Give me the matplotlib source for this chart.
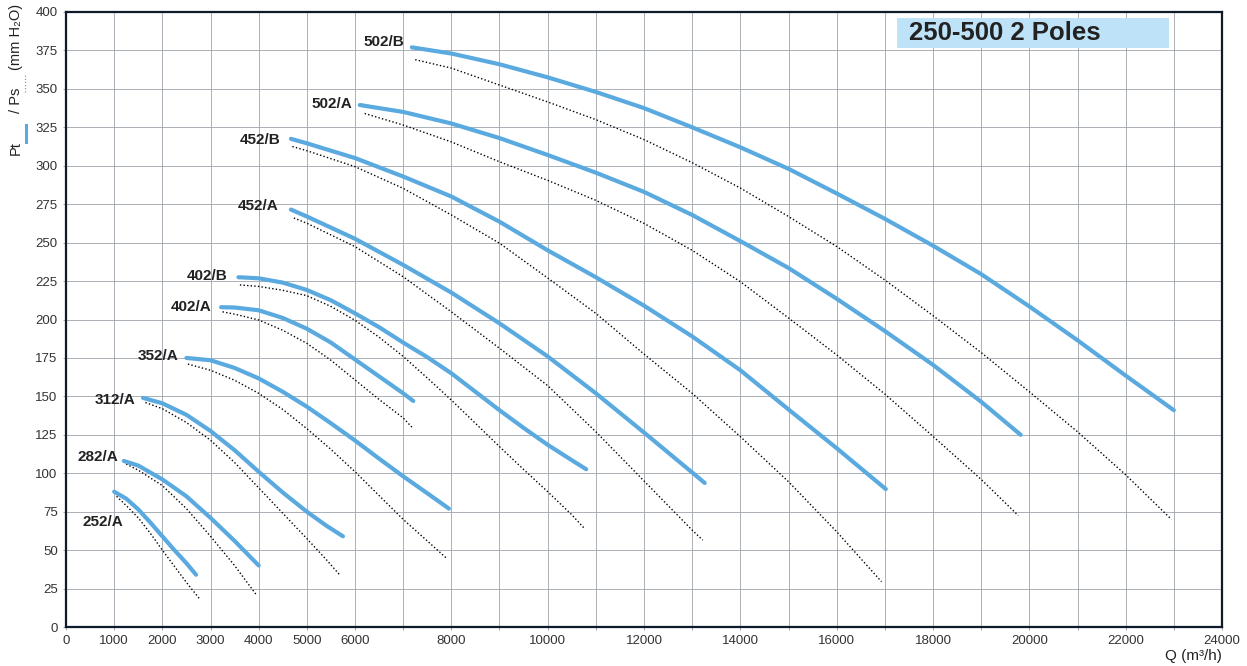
import matplotlib
matplotlib.use('Agg')
import matplotlib.pyplot as plt
from matplotlib.lines import Line2D
from matplotlib.patches import Rectangle

plt.rcParams['font.family'] = ['Liberation Sans', 'DejaVu Sans']

# fan curves: Q (m3/h) and pressure (mm H2O)
# solid = total pressure Pt, dotted = static pressure Ps
q_252_t = [1000, 1250, 1500, 1750, 2000, 2250, 2500, 2700]
p_252_t = [88, 83.5, 76.5, 68, 59, 50, 41.5, 34]
q_252_s = [1050, 1250, 1500, 1750, 2000, 2250, 2500, 2780]
p_252_s = [85, 79, 71, 61, 50, 39.5, 29, 18]

q_282_t = [1200, 1500, 2000, 2500, 3000, 3500, 4000]
p_282_t = [108, 105, 96, 85, 71, 56, 40]
q_282_s = [1250, 1500, 2000, 2500, 3000, 3500, 3950]
p_282_s = [106, 102, 92, 77, 59, 40, 21]

q_312_t = [1600, 2000, 2500, 3000, 3500, 4000, 4500, 5000, 5400, 5750]
p_312_t = [149, 145.5, 138, 127.5, 115, 101, 87.5, 75, 66, 59]
q_312_s = [1650, 2000, 2500, 3000, 3500, 4000, 4500, 5000, 5400, 5680]
p_312_s = [146, 142, 133, 121.5, 107, 90.5, 74, 57.5, 44, 34]

q_352_t = [2500, 3000, 3500, 4000, 4500, 5000, 5500, 6000, 6500, 7000, 7500, 7950]
p_352_t = [175, 173.5, 168.5, 161.7, 153, 143.3, 132.5, 121.3, 109.5, 98, 87, 77]
q_352_s = [2530, 3000, 3500, 4000, 4500, 5000, 5500, 6000, 6500, 7000, 7500, 7890]
p_352_s = [171, 167, 160.5, 152, 141.5, 129, 115.5, 101, 85.5, 70, 56, 45]

q_402a_t = [3220, 3500, 4000, 4500, 5000, 5500, 6000, 6500, 7000, 7210]
p_402a_t = [208, 207.8, 206, 201, 194, 185, 174, 163, 152, 147]
q_402a_s = [3250, 3500, 4000, 4500, 5000, 5500, 6000, 6500, 7000, 7180]
p_402a_s = [205, 203.5, 199.7, 193, 184.5, 173.5, 160.7, 148, 136, 130]

q_402b_t = [3580, 4000, 4500, 5000, 5500, 6000, 6500, 7000, 7500, 8000, 8500, 9000, 9500, 10000, 10500, 10800]
p_402b_t = [227.5, 226.8, 224, 219.2, 212.5, 204, 195, 185, 175.5, 165, 153, 141, 129.5, 118.5, 108.5, 102.6]
q_402b_s = [3610, 4000, 4500, 5000, 5500, 6000, 6500, 7000, 7500, 8000, 8500, 9000, 9500, 10000, 10500, 10760]
p_402b_s = [222.5, 221.5, 219, 215.5, 208.5, 199.5, 188.5, 176, 162, 147.6, 132.5, 117.3, 102.5, 88, 73, 64.2]

q_452a_t = [4670, 5000, 6000, 7000, 8000, 9000, 10000, 11000, 12000, 13000, 13260]
p_452a_t = [271.5, 267, 252.5, 235.5, 217.5, 197.5, 176, 152, 126.5, 100.5, 93.7]
q_452a_s = [4730, 5000, 6000, 7000, 8000, 9000, 10000, 11000, 12000, 13000, 13220]
p_452a_s = [266, 262.6, 247.4, 227.8, 205, 181.3, 157, 127, 95, 63, 56.5]

q_452b_t = [4670, 5000, 6000, 7000, 8000, 9000, 10000, 11000, 12000, 13000, 14000, 15000, 16000, 17020]
p_452b_t = [317.5, 314.6, 305, 293, 280, 263.6, 245, 227.5, 209, 189, 167, 141.5, 116.3, 89.7]
q_452b_s = [4700, 5000, 6000, 7000, 8000, 9000, 10000, 11000, 12000, 13000, 14000, 15000, 16000, 16930]
p_452b_s = [312.5, 309.8, 299.4, 285.3, 268, 249.6, 227, 204, 177.5, 152, 123.8, 94.5, 62, 29.5]

q_502a_t = [6100, 7000, 8000, 9000, 10000, 11000, 12000, 13000, 14000, 15000, 16000, 17000, 18000, 19000, 19820]
p_502a_t = [339.5, 335, 327.5, 318, 307, 295.5, 283, 268, 251, 233.5, 213.5, 192.5, 170.5, 146.5, 125]
q_502a_s = [6200, 7000, 8000, 9000, 10000, 11000, 12000, 13000, 14000, 15000, 16000, 17000, 18000, 19000, 19770]
p_502a_s = [334, 326.5, 315.5, 302.6, 290.5, 277.5, 262.5, 245, 224.6, 201, 177, 151.5, 124, 96, 72.5]

q_502b_t = [7180, 8000, 9000, 10000, 11000, 12000, 13000, 14000, 15000, 16000, 17000, 18000, 19000, 20000, 21000, 22000, 23000]
p_502b_t = [377, 373, 366, 357.5, 348, 337.5, 325, 312, 298, 282, 265.5, 248, 229.5, 208.5, 186.5, 163.5, 141]
q_502b_s = [7250, 8000, 9000, 10000, 11000, 12000, 13000, 14000, 15000, 16000, 17000, 18000, 19000, 20000, 21000, 22000, 22950]
p_502b_s = [369, 363.5, 352.5, 341.5, 330, 317, 302, 285.5, 267, 247.5, 225.7, 202.5, 178.5, 153, 127, 99, 70]

curves = [
    (q_252_t, p_252_t, q_252_s, p_252_s),
    (q_282_t, p_282_t, q_282_s, p_282_s),
    (q_312_t, p_312_t, q_312_s, p_312_s),
    (q_352_t, p_352_t, q_352_s, p_352_s),
    (q_402a_t, p_402a_t, q_402a_s, p_402a_s),
    (q_402b_t, p_402b_t, q_402b_s, p_402b_s),
    (q_452a_t, p_452a_t, q_452a_s, p_452a_s),
    (q_452b_t, p_452b_t, q_452b_s, p_452b_s),
    (q_502a_t, p_502a_t, q_502a_s, p_502a_s),
    (q_502b_t, p_502b_t, q_502b_s, p_502b_s),
]

# model names and where their labels sit (right edge, middle)
names = ['252/A', '282/A', '312/A', '352/A', '402/A', '402/B', '452/A', '452/B', '502/A', '502/B']
label_q = [1183, 1080, 1432, 2325, 3031, 3363, 4422, 4463, 5937, 7017]
label_p = [68.3, 110.6, 147.6, 176.3, 208.1, 228.3, 273.8, 316.7, 340.2, 380.5]

xticks = list(range(0, 25000, 1000))
xlabels = [str(v) if (v <= 6000 or v % 2000 == 0) else '' for v in xticks]
yticks = list(range(0, 401, 25))

blue = '#5aaae0'
txt = '#222222'

fig = plt.figure(figsize=(12.47, 6.66), dpi=100)
ax = fig.add_axes([66/1247, 1-627/666, (1222-66)/1247, (627-12)/666])

for qt, pt, qs, ps in curves:
    ax.plot(qs, ps, color='black', lw=1.0, ls=(0, (1, 1.6)), zorder=3)
    ax.plot(qt, pt, color=blue, lw=3.0, solid_capstyle='round', solid_joinstyle='round', zorder=4)

for n, xq, yp in zip(names, label_q, label_p):
    ax.text(xq, yp, n, ha='right', va='center', fontsize=11, fontweight='bold', color=txt)

ax.set_xlim(0, 24000)
ax.set_ylim(0, 400)
ax.set_xticks(xticks)
ax.set_xticklabels(xlabels)
ax.set_yticks(yticks)
ax.tick_params(axis='both', labelsize=9.5, labelcolor='#333333', color='#999999', length=2, width=0.6, pad=4)
ax.set_axisbelow(True)
ax.grid(True, color='#9ea2ab', lw=0.6)
for s in ax.spines.values():
    s.set_color('#0f1a2b')
    s.set_linewidth(1.6)

# title box
ax.add_patch(Rectangle((17250, 376.6), 5650, 19.4, facecolor='#bee3f8', edgecolor='none', zorder=2))
ax.text(17500, 386.3, '250-500 2 Poles', ha='left', va='center', fontsize=18.5, fontweight='bold', color=txt, zorder=5)

# axis labels
fig.text(1222/1247, 1-656/666, 'Q (m³/h)', ha='right', va='center', fontsize=11, color=txt)
fig.text(16/1247, 1-148/666, 'Pt', rotation=90, ha='center', va='center', fontsize=10.5, color=txt)
fig.text(16/1247, 1-100/666, '/ Ps', rotation=90, ha='center', va='center', fontsize=10.5, color=txt)
fig.text(16/1247, 1-37/666, '(mm H₂O)', rotation=90, ha='center', va='center', fontsize=10.5, color=txt)
fig.add_artist(Line2D([26/1247, 26/1247], [1-142/666, 1-125/666], transform=fig.transFigure, color=blue, lw=2.2))
fig.add_artist(Line2D([25/1247, 25/1247], [1-92/666, 1-74/666], transform=fig.transFigure, color=blue, lw=0.9, ls=(0, (1, 1.5))))

fig.savefig('out.png', dpi=100)
